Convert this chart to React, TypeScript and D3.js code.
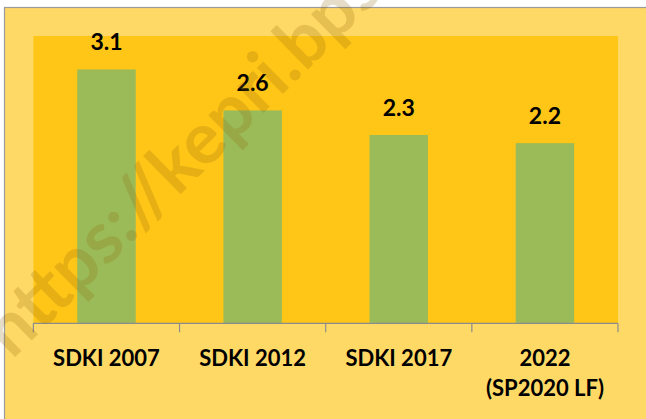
import React from "react";
import * as d3 from "d3";

const categories: string[][] = [["SDKI 2007"], ["SDKI 2012"], ["SDKI 2017"], ["2022", "(SP2020 LF)"]];
const values: number[] = [3.1, 2.6, 2.3, 2.2];
const valueLabels: string[] = ["3.1", "2.6", "2.3", "2.2"];
const watermark = "https://kepri.bps.go.id";

const W = 646;
const H = 419;
const plot = { left: 33.4, right: 618, top: 36.7, bottom: 323.3 };

export default function App() {
  const x = d3
    .scaleBand<number>()
    .domain(values.map((_, i) => i))
    .range([plot.left, plot.right])
    .paddingInner(0.6)
    .paddingOuter(0.3);
  const y = d3.scaleLinear().domain([0, 3.5]).range([plot.bottom, plot.top]);
  const step = (plot.right - plot.left) / values.length;
  const ticks = d3.range(values.length + 1).map((i) => plot.left + i * step);
  const font = "Lato, 'Open Sans', sans-serif";

  return (
    <svg
      width={W}
      height={H}
      style={{ position: "absolute", left: 0, top: 0, display: "block" }}
    >
      <rect x={0} y={0} width={W} height={H} fill="#ffffff" />
      <rect x={4.5} y={7.5} width={W} height={H} fill="#FFD966" stroke="#9a9a9a" strokeWidth={1.2} />
      <rect
        x={plot.left}
        y={plot.top - 0.7}
        width={plot.right - plot.left}
        height={plot.bottom - plot.top + 0.7}
        fill="#FFC618"
      />
      {values.map((v, i) => (
        <rect
          key={i}
          x={x(i)}
          y={y(v)}
          width={x.bandwidth()}
          height={y(0) - y(v)}
          fill="#9BBB59"
        />
      ))}
      {values.map((v, i) => (
        <text
          key={"l" + i}
          x={(x(i) as number) + x.bandwidth() / 2}
          y={y(v) - 19}
          textAnchor="middle"
          fontFamily={font}
          fontWeight="bold"
          fontSize={23}
          fill="#000"
        >
          {valueLabels[i]}
        </text>
      ))}
      <line x1={plot.left} x2={plot.right} y1={plot.bottom} y2={plot.bottom} stroke="#8c8c8c" strokeWidth={1.2} />
      {ticks.map((t, i) => (
        <line key={"t" + i} x1={t} x2={t} y1={plot.bottom} y2={plot.bottom + 9} stroke="#8c8c8c" strokeWidth={1.2} />
      ))}
      {categories.map((lines, i) =>
        lines.map((s, j) => (
          <text
            key={"c" + i + "-" + j}
            x={plot.left + (i + 0.5) * step}
            y={366 + j * 30}
            textAnchor="middle"
            fontFamily={font}
            fontWeight="bold"
            fontSize={22}
            fill="#000"
          >
            {s}
          </text>
        ))
      )}
      <text
        x={0}
        y={0}
        transform="translate(12,360) rotate(-44.5)"
        fontFamily="Lato, sans-serif"
        fontWeight="bold"
        fontSize={72}
        fill="#8B6508"
        fillOpacity={0.22}
      >
        {watermark}
      </text>
    </svg>
  );
}
